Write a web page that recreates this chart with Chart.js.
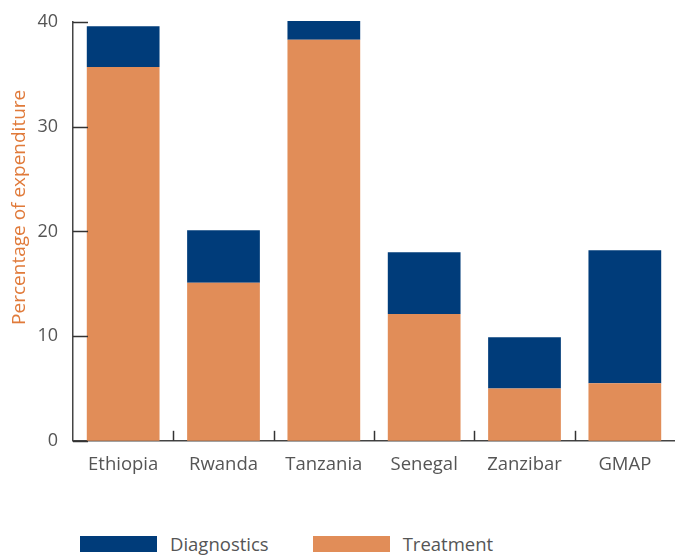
<!DOCTYPE html>
<html>
<head>
<meta charset="utf-8">
<script src="https://cdn.jsdelivr.net/npm/chart.js@4/dist/chart.umd.min.js"></script>
<style>
  body { margin: 0; background: #fff; font-family: "Open Sans", sans-serif; }
  #wrap { position: relative; width: 675px; height: 555px; }
  #legend { position: absolute; left: 80px; top: 531px; display: flex; align-items: center; font-size: 18.5px; color: #555; }
  #legend span.box { display: inline-block; width: 77px; height: 16px; margin-right: 13px; }
  #legend span.lbl { margin-right: 44px; }
</style>
</head>
<body>
<div id="wrap">
  <canvas id="myChart" width="675" height="530"></canvas>
  <div id="legend"></div>
</div>
<script>
const paises = ["Ethiopia", "Rwanda", "Tanzania", "Senegal", "Zanzibar", "GMAP"]
const tratamiento = [35.7, 15.1, 38.3, 12.1, 5.0, 5.5]
const diagnostico = [3.9, 5.0, 1.8, 5.9, 4.9, 12.7]
const ticksY = [0, 10, 20, 30, 40]
const tituloY = "Percentage of expenditure"

const naranja = "#E18D58"
const azul = "#003C7A"
const gris = "#555"

// marcas cortas hacia adentro del grafico + titulo del eje Y
const marcasInternas = {
    id: "marcasInternas",
    afterDraw(chart) {
        const ctx = chart.ctx
        const x = chart.scales.x
        const y = chart.scales.y
        const area = chart.chartArea
        ctx.save()
        ctx.strokeStyle = "#333"
        ctx.lineWidth = 1.5
        ticksY.forEach((v) => {
            const py = Math.round(y.getPixelForValue(v)) + 0.5
            ctx.beginPath()
            ctx.moveTo(area.left, py)
            ctx.lineTo(area.left + 15, py)
            ctx.stroke()
        })
        for (let i = 1; i < paises.length; i++) {
            const px = Math.round((x.getPixelForValue(i - 1) + x.getPixelForValue(i)) / 2) + 0.5
            ctx.beginPath()
            ctx.moveTo(px, area.bottom)
            ctx.lineTo(px, area.bottom - 10)
            ctx.stroke()
        }
        // titulo un poco arriba del centro, como en el original
        ctx.translate(20, y.getPixelForValue(22.3))
        ctx.rotate(-Math.PI / 2)
        ctx.fillStyle = "#E07A3A"
        ctx.font = "19px 'Open Sans'"
        ctx.textAlign = "center"
        ctx.textBaseline = "middle"
        ctx.fillText(tituloY, 0, 0)
        ctx.restore()
    }
}

const config = {
    type: "bar",
    data: {
        labels: paises,
        datasets: [
            { label: "Treatment", data: tratamiento, backgroundColor: naranja, clip: false },
            { label: "Diagnostics", data: diagnostico, backgroundColor: azul, clip: false }
        ]
    },
    options: {
        responsive: false,
        animation: false,
        layout: { padding: { top: 22, right: 0, bottom: 41, left: 0 } },
        datasets: { bar: { categoryPercentage: 1, barPercentage: 0.725 } },
        plugins: { legend: { display: false }, tooltip: { enabled: false } },
        scales: {
            x: {
                stacked: true,
                grid: { display: false, drawTicks: false },
                border: { display: true, color: "#444", width: 1.5 },
                ticks: { color: gris, padding: 13, font: { family: "Open Sans", size: 18.5 } }
            },
            y: {
                stacked: true,
                min: 0,
                max: 40,
                grid: { display: false, drawTicks: false },
                border: { display: true, color: "#444", width: 1.5 },
                afterBuildTicks: (s) => { s.ticks = ticksY.map((v) => ({ value: v })) },
                afterFit: (s) => {
                    s.width = 73
                    s.paddingTop = 0
                    s.paddingBottom = 0
                },
                ticks: { color: gris, padding: 15, font: { family: "Open Sans", size: 18 } }
            }
        }
    },
    plugins: [marcasInternas]
}

new Chart(document.querySelector("#myChart"), config)

// leyenda en html, primero Diagnostics
const leyenda = document.querySelector("#legend")
;[["Diagnostics", azul], ["Treatment", naranja]].forEach(([txt, col]) => {
    leyenda.innerHTML += `<span class="box" style="background:${col}"></span><span class="lbl">${txt}</span>`
})
</script>
</body>
</html>
